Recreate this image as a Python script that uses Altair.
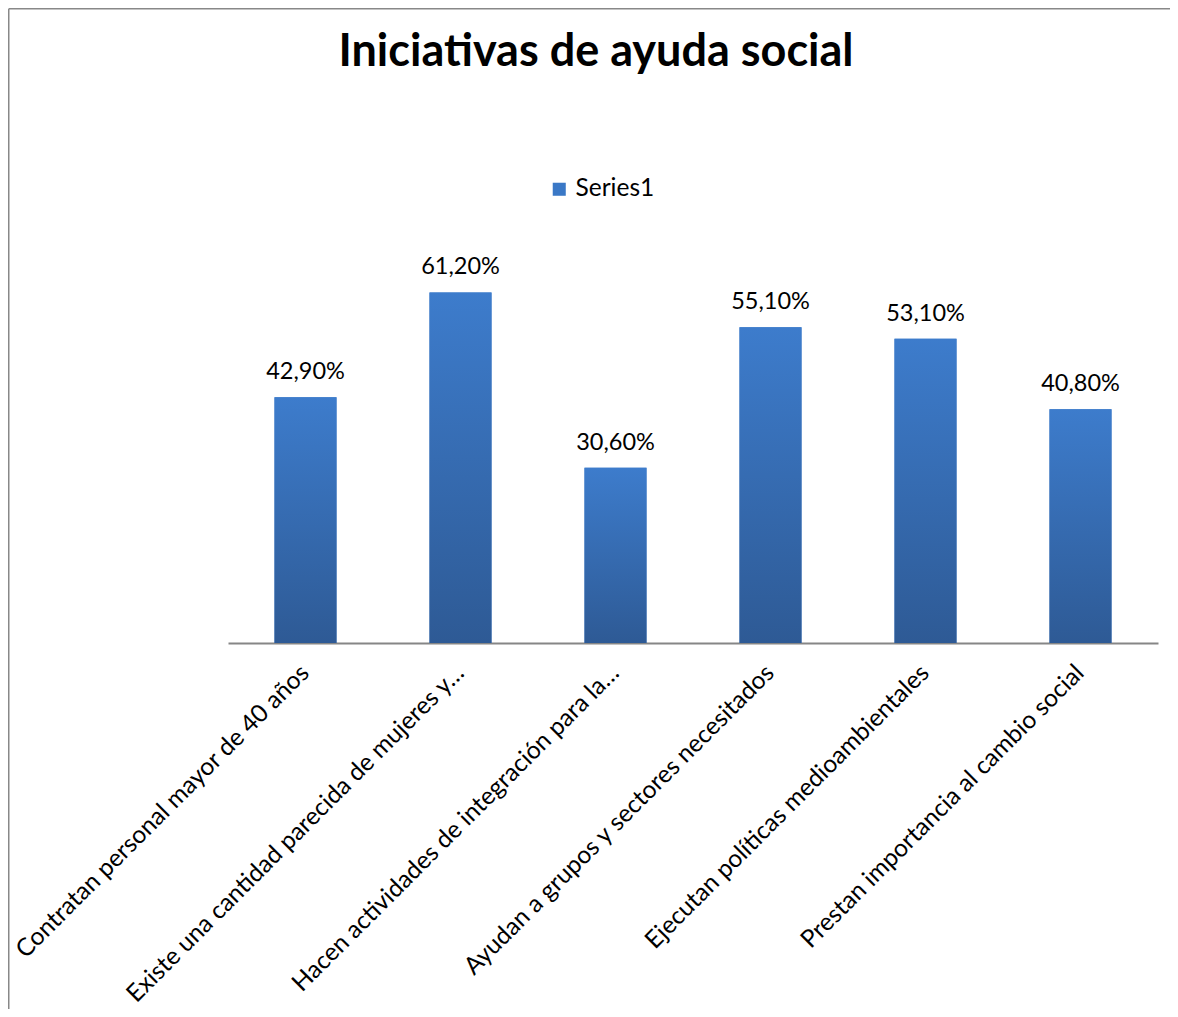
import altair as alt
import pandas as pd

categories = [
    "Contratan personal mayor de 40 años",
    "Existe una cantidad parecida de mujeres y…",
    "Hacen actividades de integración para la…",
    "Ayudan a grupos y sectores necesitados",
    "Ejecutan políticas medioambientales",
    "Prestan importancia al cambio social",
]
values = [42.9, 61.2, 30.6, 55.1, 53.1, 40.8]
series = ["Series1"] * len(categories)
title_text = "Iniciativas de ayuda social"

df = pd.DataFrame({"cat": categories, "v": values, "series": series})

W, H = 930, 401
PL, PT, PR, PB = 220, 234, 12, 366
FONT = "Lato"

x_enc = alt.X(
    "cat:N",
    sort=categories,
    scale=alt.Scale(paddingInner=0.6, paddingOuter=0.3),
    axis=alt.Axis(
        title=None,
        labelAngle=-45,
        labelAlign="right",
        labelBaseline="middle",
        labelFont=FONT,
        labelFontSize=24.5,
        labelColor="#000000",
        labelPadding=26,
        labelLimit=0,
        ticks=False,
        domainColor="#868686",
        domainWidth=2,
        grid=False,
    ),
)
y_enc = alt.Y("v:Q", scale=alt.Scale(domain=[0, 70]), axis=None)

base = alt.Chart(df)

legend_bars = base.mark_bar(size=62).encode(
    x=x_enc,
    y=y_enc,
    color=alt.Color(
        "series:N",
        scale=alt.Scale(range=["#3a78c6"]),
        legend=alt.Legend(
            title=None,
            orient="none",
            legendX=319,
            legendY=-65,
            symbolType="square",
            symbolSize=170,
            symbolStrokeWidth=0,
            labelFont=FONT,
            labelFontSize=24.5,
            labelColor="#000000",
        ),
    ),
)

grad = alt.LinearGradient(
    gradient="linear",
    stops=[
        alt.GradientStop(color="#3d7ccc", offset=0),
        alt.GradientStop(color="#2e5a95", offset=1),
    ],
    x1=0, x2=0, y1=0, y2=1,
)
bars = base.mark_bar(size=62, color=grad).encode(x=x_enc, y=y_enc)

labels = base.transform_calculate(
    lab="replace(format(datum.v, '.2f'), '.', ',') + '%'"
).mark_text(
    font=FONT, fontSize=23.5, color="#000000", baseline="alphabetic", dy=-18
).encode(x=x_enc, y=y_enc, text="lab:N")

frame_df = pd.DataFrame({"k": [0]})
frame_top = alt.Chart(frame_df).mark_rule(color="#888888", strokeWidth=1.5).encode(
    x=alt.value(-PL + 0.75), x2=alt.value(W + PR), y=alt.value(-PT + 0.75)
)
frame_left = alt.Chart(frame_df).mark_rule(color="#888888", strokeWidth=1.5).encode(
    x=alt.value(-PL + 0.75), y=alt.value(-PT + 0.75), y2=alt.value(H + PB)
)

chart = alt.layer(legend_bars, bars, labels, frame_top, frame_left).properties(
    width=W,
    height=H,
    autosize=alt.AutoSizeParams(type="none"),
    padding={"left": PL, "top": PT, "right": PR, "bottom": PB},
    title=alt.TitleParams(
        text=title_text,
        font=FONT,
        fontSize=45,
        fontWeight="bold",
        color="#000000",
        anchor="middle",
        frame="group",
        baseline="alphabetic",
        offset=-103,
        dx=-97,
    ),
).configure_view(stroke=None)

chart.save("out.html", embed_options={"renderer": "svg", "actions": False})
